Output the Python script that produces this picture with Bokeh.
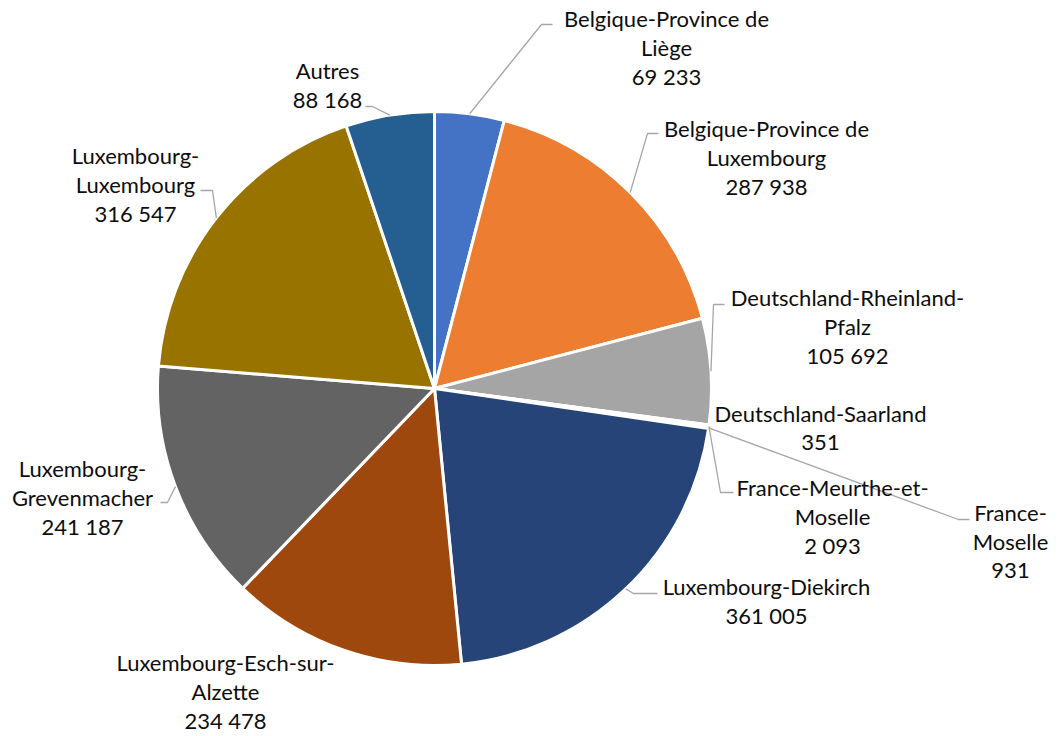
import math
from bokeh.plotting import figure
from bokeh.models import Range1d, ColumnDataSource
from bokeh.core.properties import value
from bokeh.embed import file_html
from bokeh.resources import INLINE

W, H = 1059, 736

# ---- data ----
categories = [
    "Belgique-Province de Liège",
    "Belgique-Province de Luxembourg",
    "Deutschland-Rheinland-Pfalz",
    "Deutschland-Saarland",
    "France-Meurthe-et-Moselle",
    "France-Moselle",
    "Luxembourg-Diekirch",
    "Luxembourg-Esch-sur-Alzette",
    "Luxembourg-Grevenmacher",
    "Luxembourg-Luxembourg",
    "Autres",
]
values = [69233, 287938, 105692, 351, 2093, 931, 361005, 234478, 241187, 316547, 88168]

# ---- styling / layout ----
colors = ["#4472C4", "#ED7D31", "#A5A5A5", "#FFC000", "#5B9BD5", "#70AD47",
          "#264478", "#9E480E", "#636363", "#997300", "#255E91"]
wrapped = [
    ["Belgique-Province de", "Liège"],
    ["Belgique-Province de", "Luxembourg"],
    ["Deutschland-Rheinland-", "Pfalz"],
    ["Deutschland-Saarland"],
    ["France-Meurthe-et-", "Moselle"],
    ["France-", "Moselle"],
    ["Luxembourg-Diekirch"],
    ["Luxembourg-Esch-sur-", "Alzette"],
    ["Luxembourg-", "Grevenmacher"],
    ["Luxembourg-", "Luxembourg"],
    ["Autres"],
]
# label centre x, first-line centre y (pixels from top)
label_pos = [(666, 18), (766, 128), (847, 297), (820, 413), (832, 487), (1010, 512),
             (766, 586), (225, 662), (82, 468), (135, 155), (327, 70)]
# leader elbow and end points (pixels from top), None = no leader
leaders = [((541, 24), (552, 24)), ((647, 133), (658, 133)), ((713, 304), (724, 304)),
           None, ((720, 492), (733, 492)), ((958, 519), (969, 519)),
           ((633, 593), (657, 593)), None, ((167, 502), (160, 502)),
           ((212, 190), (200, 190)), ((372, 106), (365, 106))]

CX, CY, R = 434, 388, 277
LINE_H = 29
FONT = "Lato"
FSIZE = "22px"

def Y(py):
    return H - py

total = float(sum(values))
starts, ends, mids = [], [], []
c = 0.0
for v in values:
    c0 = c
    c1 = c + v / total
    starts.append(math.pi / 2 - 2 * math.pi * c1)
    ends.append(math.pi / 2 - 2 * math.pi * c0)
    mids.append(2 * math.pi * (c0 + c1) / 2)
    c = c1

p = figure(width=W, height=H, x_range=Range1d(0, W), y_range=Range1d(0, H),
           output_backend="svg", toolbar_location=None, min_border=0,
           outline_line_color=None, background_fill_color="white")
p.axis.visible = False
p.grid.visible = False

src = ColumnDataSource(dict(start=starts, end=ends, color=colors))
p.wedge(x=CX, y=Y(CY), radius=R, radius_units="screen", start_angle="start",
        end_angle="end", direction="anticlock", fill_color="color",
        line_color="white", line_width=3, source=src)

# leader lines
xs, ys = [], []
for i, ld in enumerate(leaders):
    if ld is None:
        continue
    sx = CX + R * math.sin(mids[i])
    sy = CY - R * math.cos(mids[i])
    (ex, ey), (fx, fy) = ld
    xs.append([sx, ex, fx])
    ys.append([Y(sy), Y(ey), Y(fy)])
p.multi_line(xs=xs, ys=ys, line_color="#A6A6A6", line_width=1.3)

# labels
tx, ty, tt = [], [], []
for i, lines in enumerate(wrapped):
    lx, ly = label_pos[i]
    all_lines = lines + [f"{values[i]:,}".replace(",", " ")]
    for k, t in enumerate(all_lines):
        tx.append(lx)
        ty.append(Y(ly + k * LINE_H))
        tt.append(t)
p.text(x=tx, y=ty, text=tt, text_align="center", text_baseline="middle",
       text_font=value(FONT), text_font_size=FSIZE, text_color="#0d0d0d")

open("out.html", "w").write(file_html(p, INLINE))
